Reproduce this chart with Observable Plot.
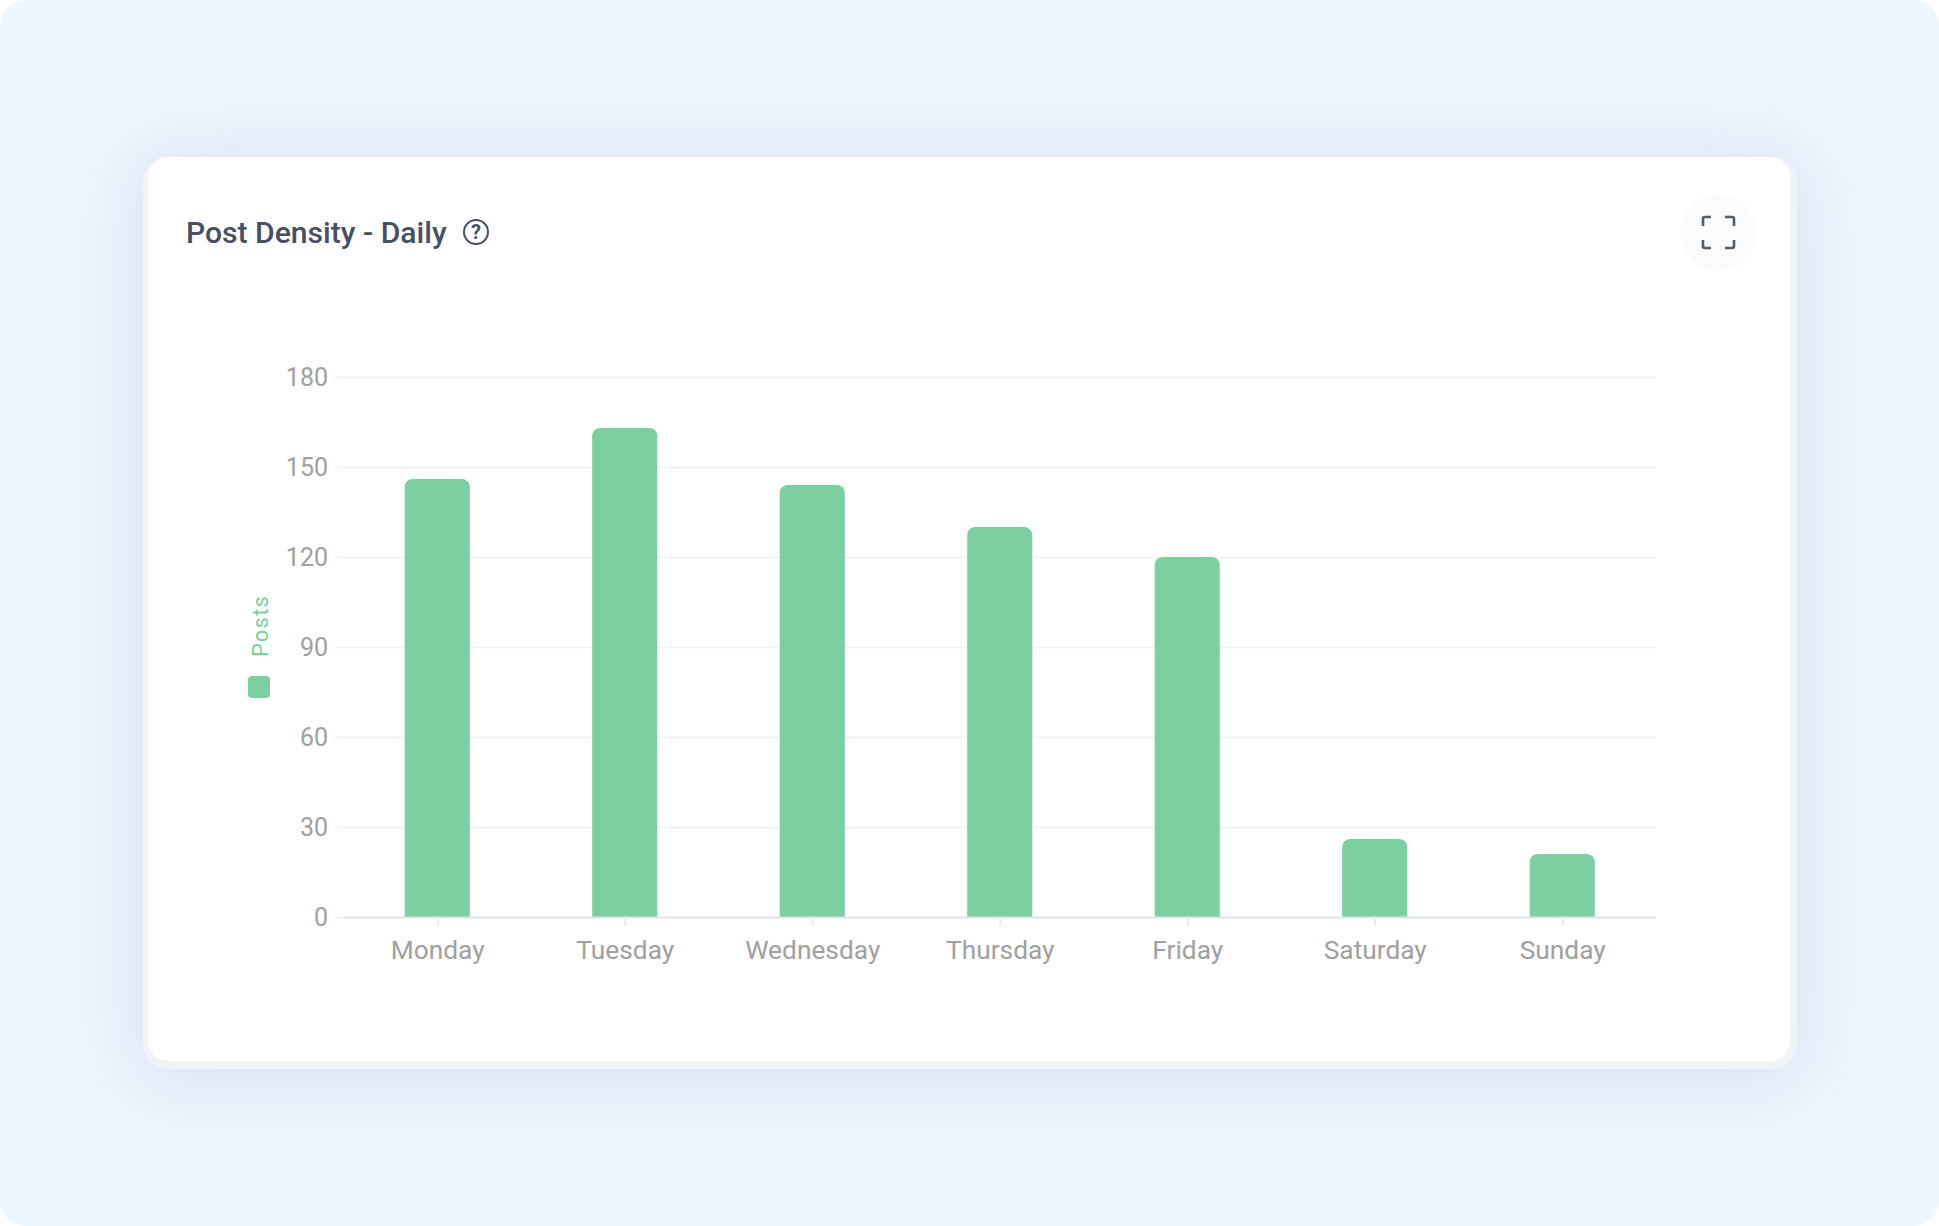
<!DOCTYPE html>
<html><head><meta charset="utf-8">
<script src="https://cdn.jsdelivr.net/npm/d3@7"></script>
<script src="https://cdn.jsdelivr.net/npm/@observablehq/plot@0.6"></script>
<style>
html,body{margin:0;padding:0;background:#fff;width:1939px;height:1226px;overflow:hidden}
#page{position:absolute;left:0;top:0;width:1939px;height:1226px;background:#eef6fe;border-radius:26px;overflow:hidden;font-family:Roboto,sans-serif}
#edge{position:absolute;left:143px;top:157px;width:1654px;height:912px;background:#f0f3f7;border-radius:24px;box-shadow:0 6px 70px 12px rgba(165,180,210,.28)}
#card{position:absolute;left:148px;top:157px;width:1642px;height:904px;background:#fff;border-radius:20px}
#title{position:absolute;left:186px;top:213.5px;font-size:30.1px;line-height:38px;font-weight:500;color:#464f63;white-space:nowrap}
#help{position:absolute;left:463px;top:219px;width:22px;height:22px;border:2.5px solid #464f63;border-radius:50%;font-size:20px;font-weight:700;line-height:22px;text-align:center;color:#464f63}
#full{position:absolute;left:1680px;top:195px}
#chart{position:absolute;left:200px;top:339px}
#legendText{position:absolute;left:259.5px;top:626px;transform:translate(-50%,-50%) rotate(-90deg);font-size:22px;letter-spacing:1.2px;color:#7bcfa1;white-space:nowrap}
#swatch{position:absolute;left:248px;top:675.5px;width:22px;height:22px;border-radius:4px;background:#7bcfa1}
#chart text{font-family:Roboto,sans-serif}
</style></head>
<body>
<div id="page">
  <div id="edge"></div>
  <div id="card"></div>
  <div id="title">Post Density - Daily</div>
  <div id="help">?</div>
  <svg id="full" width="76" height="76" viewBox="0 0 76 76">
    <circle cx="38" cy="38" r="38" fill="#fafbfb"/>
    <path d="M23 31V24q0-2 2-2H31M45 22H52q2 0 2 2V31M23 45V51q0 2 2 2H31M54 45V51q0 2-2 2H45" fill="none" stroke="#555b66" stroke-width="2.6"/>
  </svg>
  <div id="legendText">Posts</div>
  <div id="swatch"></div>
  <div id="chart"></div>
</div>
<script>
const days = ["Monday","Tuesday","Wednesday","Thursday","Friday","Saturday","Sunday"];
const posts = [146,163,144,130,120,26,21];
const yTicks = [0,30,60,90,120,150,180];
const table = days.map((day,i)=>({day,value:posts[i]}));

const chart = Plot.plot({
  width:1500, height:640,
  marginLeft:143.5, marginRight:44, marginTop:38, marginBottom:62,
  style:{fontFamily:"Roboto, sans-serif",background:"transparent",overflow:"visible"},
  x:{domain:days,paddingInner:0.653,paddingOuter:0.3265,align:0.5,round:false,label:null},
  y:{domain:[0,180],label:null},
  marks:[
    Plot.ruleY(yTicks.slice(1),{stroke:"#f1f3f6",strokeWidth:2}),
    Plot.axisY({ticks:yTicks,tickSize:9,tickPadding:7,stroke:"#f1f3f6",strokeWidth:2,strokeOpacity:1,fontSize:25,fill:"#a0a0a0",label:null,tickFormat:d=>String(d)}),
    Plot.barY(table,{x:"day",y:"value",fill:"#7bcfa1",ry1:8}),
    Plot.ruleY([0],{stroke:"#e0e3e8",strokeWidth:2}),
    Plot.axisX({tickSize:9,tickPadding:14,stroke:"#e6ebf2",strokeWidth:2,strokeOpacity:1,fontSize:26.3,fill:"#a0a0a0",label:null})
  ]
});
document.getElementById("chart").appendChild(chart);
</script>
</body></html>
